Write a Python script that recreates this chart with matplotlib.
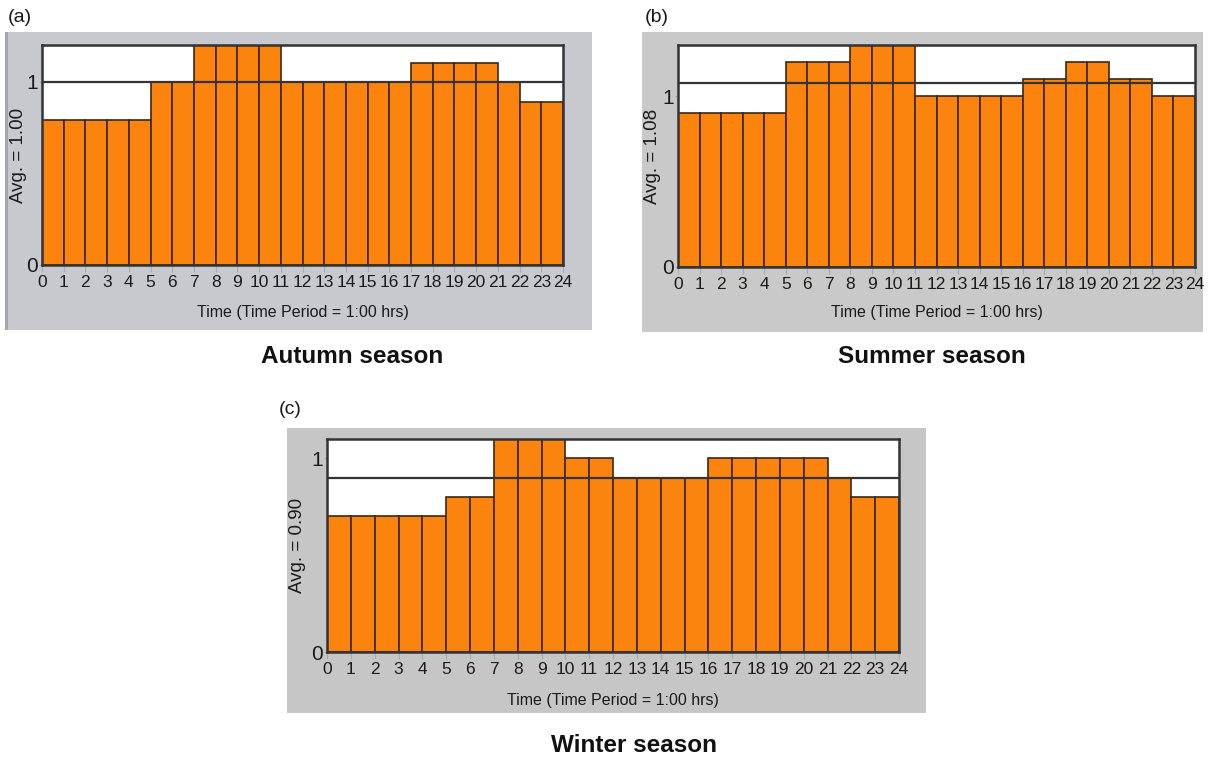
import matplotlib
matplotlib.use("Agg")
import matplotlib.pyplot as plt
from matplotlib.patches import Rectangle

plt.rcParams['font.family'] = ['Liberation Sans', 'DejaVu Sans']

hours = list(range(24))
hour_labels = [str(h) for h in range(25)]

autumn = [0.79, 0.79, 0.79, 0.79, 0.79, 1.0, 1.0, 1.2, 1.2, 1.2, 1.2, 1.0,
          1.0, 1.0, 1.0, 1.0, 1.0, 1.1, 1.1, 1.1, 1.1, 1.0, 0.89, 0.89]
summer = [0.9, 0.9, 0.9, 0.9, 0.9, 1.2, 1.2, 1.2, 1.3, 1.3, 1.3, 1.0,
          1.0, 1.0, 1.0, 1.0, 1.1, 1.1, 1.2, 1.2, 1.1, 1.1, 1.0, 1.0]
winter = [0.7, 0.7, 0.7, 0.7, 0.7, 0.8, 0.8, 1.1, 1.1, 1.1, 1.0, 1.0,
          0.9, 0.9, 0.9, 0.9, 1.0, 1.0, 1.0, 1.0, 1.0, 0.9, 0.8, 0.8]

averages = [1.00, 1.08, 0.90]
ymaxes = [1.2, 1.3, 1.1]
panel_letters = ["(a)", "(b)", "(c)"]
seasons = ["Autumn season", "Summer season", "Winter season"]
series = [autumn, summer, winter]

W, H = 1212, 758
fig = plt.figure(figsize=(W / 100, H / 100), dpi=100)
fig.patch.set_facecolor('white')

plot_px = [(42, 45, 563, 265), (678, 45, 1195, 267), (327, 439, 899, 652)]
box_px = [(5, 32, 592, 330), (642, 32, 1203, 332), (287, 428, 926, 713)]
box_col = ['#c7c9cf', '#c9c9c9', '#c6c6c6']
letter_px = [(8, 18), (645, 18), (279, 410)]
title_px = [(352, 357), (932, 357), (634, 745)]
xlabel_px = [313, 313, 700]
ylabel_x = [18, 652, 297]

orange = '#fb840e'
edge = '#3b2716'
frame = '#333333'


def fx(x):
    return x / W


def fy(y):
    return 1 - y / H


for i in range(3):
    bx0, by0, bx1, by1 = box_px[i]
    fig.patches.append(Rectangle((fx(bx0), fy(by1)), fx(bx1) - fx(bx0), fy(by0) - fy(by1),
                                 transform=fig.transFigure, facecolor=box_col[i],
                                 edgecolor='none', zorder=-10))
    if i == 0:
        fig.patches.append(Rectangle((fx(bx0), fy(by1)), fx(3), fy(by0) - fy(by1),
                                     transform=fig.transFigure, facecolor='#a4a6ab',
                                     edgecolor='none', zorder=-9))
    x0, y0, x1, y1 = plot_px[i]
    ax = fig.add_axes([fx(x0), fy(y1), fx(x1) - fx(x0), fy(y0) - fy(y1)], zorder=5)
    ax.set_facecolor('white')
    ax.bar(hours, series[i], width=1.0, align='edge', color=orange,
           edgecolor=edge, linewidth=1.2, zorder=2)
    ax.axhline(averages[i], color=frame, linewidth=1.6, zorder=3)
    ax.set_xlim(0, 24)
    ax.set_ylim(0, ymaxes[i])
    for s in ax.spines.values():
        s.set_color(frame)
        s.set_linewidth(1.8)
        s.set_zorder(4)
    ax.set_xticks(range(25))
    ax.set_xticklabels(hour_labels, fontsize=12.5, color='#1a1a1a')
    ax.set_yticks([0, 1])
    ax.set_yticklabels(['0', '1'], fontsize=15, color='#1a1a1a')
    ax.tick_params(axis='x', length=5, width=0.8, color='#a9a9b5', pad=2)
    ax.tick_params(axis='y', length=2, width=0.8, color='#a9a9b5', pad=1)
    ax.set_ylabel(f"Avg. = {averages[i]:.2f}", fontsize=13.5, color='#1a1a1a')
    ax.yaxis.set_label_coords((ylabel_x[i] - x0) / (x1 - x0), 0.5)
    ax.set_xlabel("Time (Time Period = 1:00 hrs)", fontsize=11.5, color='#1a1a1a')
    ax.xaxis.set_label_coords(0.5, 1 - (xlabel_px[i] - y0) / (y1 - y0))
    ax.xaxis.label.set_va('center')
    ax.yaxis.label.set_va('center')

    lx, ly = letter_px[i]
    fig.text(fx(lx), fy(ly), panel_letters[i], fontsize=14, ha='left', va='center',
             color='#1a1a1a')
    tx, ty = title_px[i]
    fig.text(fx(tx), fy(ty), seasons[i], fontsize=17.5, fontweight='bold',
             ha='center', va='center', color='#111111')

fig.savefig('out.png', dpi=100)
